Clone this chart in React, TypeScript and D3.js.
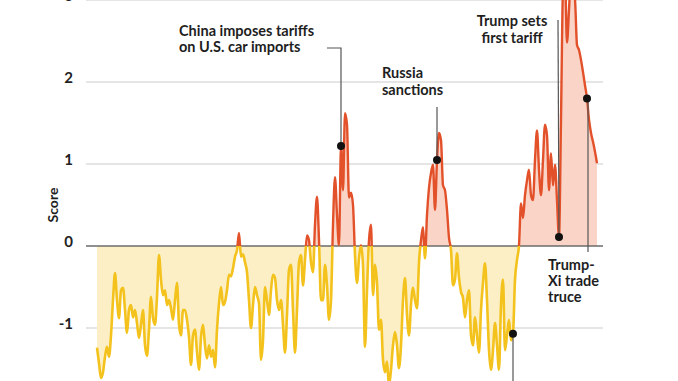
import React from 'react';
import * as d3 from 'd3';

const scores: number[] = [
  -1.24, -1.43, -1.61, -1.54, -1.35, -1.23, -1.35, -1.09, -0.66, -0.33,
  -0.66, -0.88, -0.54, -0.51, -0.78, -1.06, -0.78, -0.72, -0.87, -0.78,
  -0.94, -1.12, -0.96, -0.78, -1.21, -1.34, -1.02, -0.62, -0.88, -0.96,
  -0.62, -0.11, -0.41, -0.60, -0.54, -0.72, -0.66, -0.76, -0.90, -0.66,
  -0.45, -0.96, -1.09, -0.78, -0.78, -0.90, -1.11, -1.45, -1.09, -1.02,
  -1.29, -1.51, -1.11, -0.96, -1.21, -1.37, -1.21, -1.35, -1.27, -1.48,
  -1.02, -0.70, -0.50, -0.72, -0.68, -0.54, -0.35, -0.37, -0.27, -0.13,
  -0.05, 0.16, -0.13, -0.10, -0.20, -0.32, -0.66, -1.00, -0.72, -0.50,
  -0.60, -0.70, -1.39, -1.15, -0.50, -0.66, -0.84, -0.54, -0.35, -0.39,
  -0.66, -0.78, -0.66, -0.96, -1.30, -0.84, -0.29, -0.23, -0.78, -1.30,
  -0.78, -0.20, -0.11, -0.48, -0.17, 0.13, 0.07, -0.20, -0.32, 0.26,
  0.60, 0.07, -0.66, -0.66, -0.23, -0.48, -0.90, -0.66, 0.26, 0.84,
  0.38, 0.01, 1.22, 0.68, 1.62, 1.48, 0.59, 0.65, 0.50, -0.11,
  -0.45, -0.15, 0.01, -0.23, -1.23, -0.54, 0.07, 0.26, -0.60, -0.23,
  -0.45, -1.02, -0.90, -1.39, -1.54, -1.41, -1.70, -1.51, -1.21, -1.05,
  -1.21, -1.49, -1.21, -0.66, -0.39, -0.84, -1.09, -0.72, -0.51, -0.66,
  -0.76, -0.20, 0.07, 0.23, -0.15, 0.38, 0.71, 0.89, 0.99, 0.44,
  1.05, 1.38, 1.29, 0.74, 0.68, 0.44, 0.10, -0.05, -0.48, -0.41,
  -0.09, -0.39, -0.56, -0.63, -0.87, -0.66, -0.54, -1.09, -1.21, -0.87,
  -1.09, -1.30, -0.78, -0.45, -0.21, -0.66, -1.27, -1.51, -1.27, -0.94,
  -1.21, -1.51, -0.72, -0.41, -1.27, -1.09, -0.90, -1.15, -1.07, -0.41,
  -0.17, 0.01, 0.52, 0.34, 0.62, 0.80, 0.93, 0.62, 0.56, 1.05,
  1.41, 0.93, 0.62, 1.05, 1.48, 1.35, 0.68, 1.13, 0.74, 0.99,
  0.56, 0.11, 1.54, 3.12, 3.24, 2.48, 2.88, 3.30, 3.12, 3.00,
  2.45, 2.39, 2.27, 2.12, 1.96, 1.80, 1.54, 1.38, 1.27, 1.15,
  1.01,
];

const yTickValues: number[] = [3, 2, 1, 0, -1];
const yTickLabels: string[] = ['3', '2', '1', '0', '-1'];
const axisTitle = 'Score';

// Annotated events: index into scores, and label lines
const eventIndex: number[] = [122, 170, 231, 245, 208];
const eventLabels: string[][] = [
  ['China imposes tariffs', 'on U.S. car imports'],
  ['Russia', 'sanctions'],
  ['Trump sets', 'first tariff'],
  ['Trump-', 'Xi trade', 'truce'],
  [],
];

const W = 678;
const H = 381;
const FONT = "Lato, 'Open Sans', sans-serif";

const YELLOW = '#f3c21c';
const YELLOW_FILL = '#fcefc6';
const RED = '#e2512a';
const RED_FILL = '#fad4c7';

export default function App() {
  const x = d3.scaleLinear().domain([0, scores.length - 1]).range([97, 597]);
  const y = d3.scaleLinear().domain([-1, 3]).range([328, 0]);
  const y0 = y(0);

  const area = d3
    .area<number>()
    .x((_, i) => x(i))
    .y0(y0)
    .y1((d) => y(d))
    .curve(d3.curveMonotoneX);
  const line = d3
    .line<number>()
    .x((_, i) => x(i))
    .y((d) => y(d))
    .curve(d3.curveMonotoneX);

  const areaPath = area(scores) || '';
  const linePath = line(scores) || '';

  const gridX0 = 86;
  const gridX1 = 603;

  const ev = eventIndex.map((i) => ({ cx: x(i), cy: y(scores[i]) }));

  const textStyle: React.CSSProperties = {
    fontFamily: FONT,
    fontWeight: 700,
    fontSize: 14.5,
    fill: '#1e1e1e',
  };

  return (
    <svg
      width={W}
      height={H}
      style={{ position: 'absolute', left: 0, top: 0, background: '#fff' }}
    >
      <defs>
        <clipPath id="above">
          <rect x={0} y={-50} width={W} height={y0 + 50} />
        </clipPath>
        <clipPath id="below">
          <rect x={0} y={y0} width={W} height={H} />
        </clipPath>
      </defs>
      <rect x={0} y={0} width={W} height={H} fill="#fff" />

      {/* grid */}
      {yTickValues.map((v, k) => (
        <g key={k}>
          {v !== 0 && (
            <line
              x1={gridX0}
              x2={gridX1}
              y1={y(v)}
              y2={y(v)}
              stroke="#dcdcdc"
              strokeWidth={1.5}
            />
          )}
          <text
            x={73}
            y={y(v) + 1}
            textAnchor="end"
            style={{ ...textStyle, fontSize: 15, fill: '#222' }}
          >
            {yTickLabels[k]}
          </text>
        </g>
      ))}
      <text
        transform={`translate(58,205) rotate(-90)`}
        textAnchor="middle"
        style={{ ...textStyle, fontSize: 14 }}
      >
        {axisTitle}
      </text>

      {/* areas */}
      <path d={areaPath} fill={RED_FILL} clipPath="url(#above)" />
      <path d={areaPath} fill={YELLOW_FILL} clipPath="url(#below)" />

      {/* zero line */}
      <line x1={gridX0} x2={gridX1} y1={y0} y2={y0} stroke="#6b6b6b" strokeWidth={1.6} />

      {/* lines */}
      <path d={linePath} fill="none" stroke={YELLOW} strokeWidth={2.6} clipPath="url(#below)" strokeLinejoin="round" />
      <path d={linePath} fill="none" stroke={RED} strokeWidth={2.4} clipPath="url(#above)" strokeLinejoin="round" />

      {/* annotations */}
      {/* China */}
      <polyline
        points={`327,48 ${ev[0].cx},48 ${ev[0].cx},${ev[0].cy}`}
        fill="none"
        stroke="#555"
        strokeWidth={1.2}
      />
      {eventLabels[0].map((t, k) => (
        <text key={k} x={179} y={36 + k * 16} style={textStyle}>
          {t}
        </text>
      ))}
      {/* Russia */}
      <line x1={ev[1].cx} x2={ev[1].cx} y1={107} y2={ev[1].cy} stroke="#555" strokeWidth={1.2} />
      {eventLabels[1].map((t, k) => (
        <text key={k} x={382} y={78 + k * 17} style={textStyle}>
          {t}
        </text>
      ))}
      {/* Trump first tariff */}
      <line x1={ev[2].cx - 1} x2={ev[2].cx} y1={20} y2={ev[2].cy} stroke="#555" strokeWidth={1.2} />
      {eventLabels[2].map((t, k) => (
        <text key={k} x={512} y={26 + k * 17} textAnchor="middle" style={textStyle}>
          {t}
        </text>
      ))}
      {/* Trump-Xi truce */}
      <line x1={ev[3].cx + 1} x2={ev[3].cx + 1} y1={ev[3].cy} y2={252} stroke="#555" strokeWidth={1.2} />
      {eventLabels[3].map((t, k) => (
        <text key={k} x={548} y={270 + k * 16} style={textStyle}>
          {t}
        </text>
      ))}
      {/* Lower event (label outside view) */}
      <line x1={ev[4].cx} x2={ev[4].cx} y1={ev[4].cy} y2={H + 10} stroke="#555" strokeWidth={1.2} />

      {ev.map((e, k) => (
        <circle key={k} cx={e.cx} cy={e.cy} r={4} fill="#111" />
      ))}
    </svg>
  );
}
